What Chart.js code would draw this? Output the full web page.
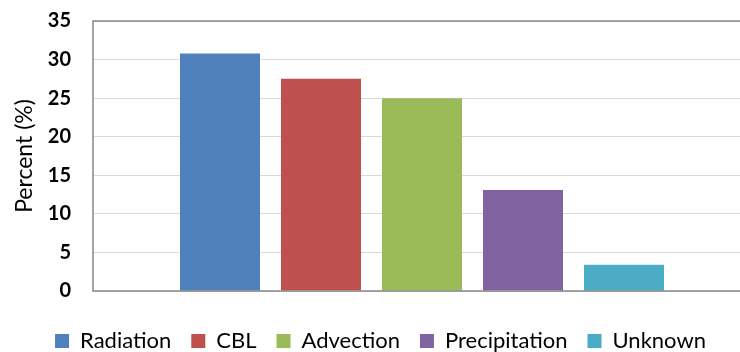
<!DOCTYPE html>
<html>
<head>
<meta charset="utf-8">
<script src="https://cdn.jsdelivr.net/npm/chart.js@4.4.0/dist/chart.umd.min.js"></script>
<style>
  html, body { margin: 0; padding: 0; background: #fff; }
  #wrap { width: 740px; height: 352px; overflow: hidden; position: relative; }
  canvas { display: block; }
</style>
</head>
<body>
<div id="wrap"><canvas id="c" width="760" height="362"></canvas></div>
<script>
// Share of events by type (%)
const seriesNames = ['Radiation', 'CBL', 'Advection', 'Precipitation', 'Unknown'];
const seriesValues = [30.8, 27.5, 25.0, 13.1, 3.4];
const seriesColors = ['#4F81BD', '#C0504D', '#9BBB59', '#8064A2', '#4BACC6'];
const categories = [''];
const yTicks = [0, 5, 10, 15, 20, 25, 30, 35];

const FONT = 'Lato, "Open Sans", "Liberation Sans", sans-serif';
const AXIS_GREY = '#868686';

const datasets = seriesNames.map((name, i) => ({
  label: name,
  data: [seriesValues[i]],
  backgroundColor: seriesColors[i],
  borderWidth: 0,
  barPercentage: 0.792,
  categoryPercentage: 0.7675
}));

// Plot-area frame (left, top, bottom) drawn over the bars like an axis line;
// also nudges the legend row so it sits centred under the page
const frame = {
  id: 'frame',
  afterLayout(chart) {
    chart.legend.left += 5;
    chart.legend.right += 5;
  },
  afterDatasetsDraw(chart) {
    const { ctx, chartArea: a } = chart;
    ctx.save();
    ctx.strokeStyle = AXIS_GREY;
    ctx.lineWidth = 1.5;
    ctx.beginPath();
    ctx.moveTo(a.right + 20, a.top);
    ctx.lineTo(a.left, a.top);
    ctx.lineTo(a.left, a.bottom);
    ctx.lineTo(a.right + 20, a.bottom);
    ctx.stroke();
    ctx.restore();
  }
};

new Chart(document.getElementById('c'), {
  type: 'bar',
  data: { labels: categories, datasets },
  plugins: [frame],
  options: {
    responsive: false,
    animation: false,
    layout: { padding: { top: 21, right: 9, bottom: 0, left: 0 } },
    plugins: {
      tooltip: { enabled: false },
      legend: {
        position: 'bottom',
        labels: {
          boxWidth: 14,
          boxHeight: 14,
          padding: 20,
          color: '#000',
          font: { family: FONT, size: 22 }
        }
      }
    },
    scales: {
      x: {
        afterFit(scale) { scale.height = 19; },
        grid: { display: false },
        border: { display: false },
        ticks: { display: false }
      },
      y: {
        min: 0,
        max: 35,
        afterBuildTicks(scale) { scale.ticks = yTicks.map(v => ({ value: v })); },
        afterFit(scale) { scale.width = 93; },
        grid: {
          color: '#d9d9d9',
          lineWidth: 1,
          drawTicks: true,
          tickLength: 22,
          tickColor: 'rgba(0,0,0,0)'
        },
        border: { display: false },
        ticks: {
          padding: 0,
          color: '#000',
          font: { family: FONT, size: 20, weight: 'bold' }
        },
        title: {
          display: true,
          text: 'Percent (%)',
          color: '#000',
          padding: { top: 11, bottom: 0 },
          font: { family: FONT, size: 23 }
        }
      }
    }
  }
});
</script>
</body>
</html>
